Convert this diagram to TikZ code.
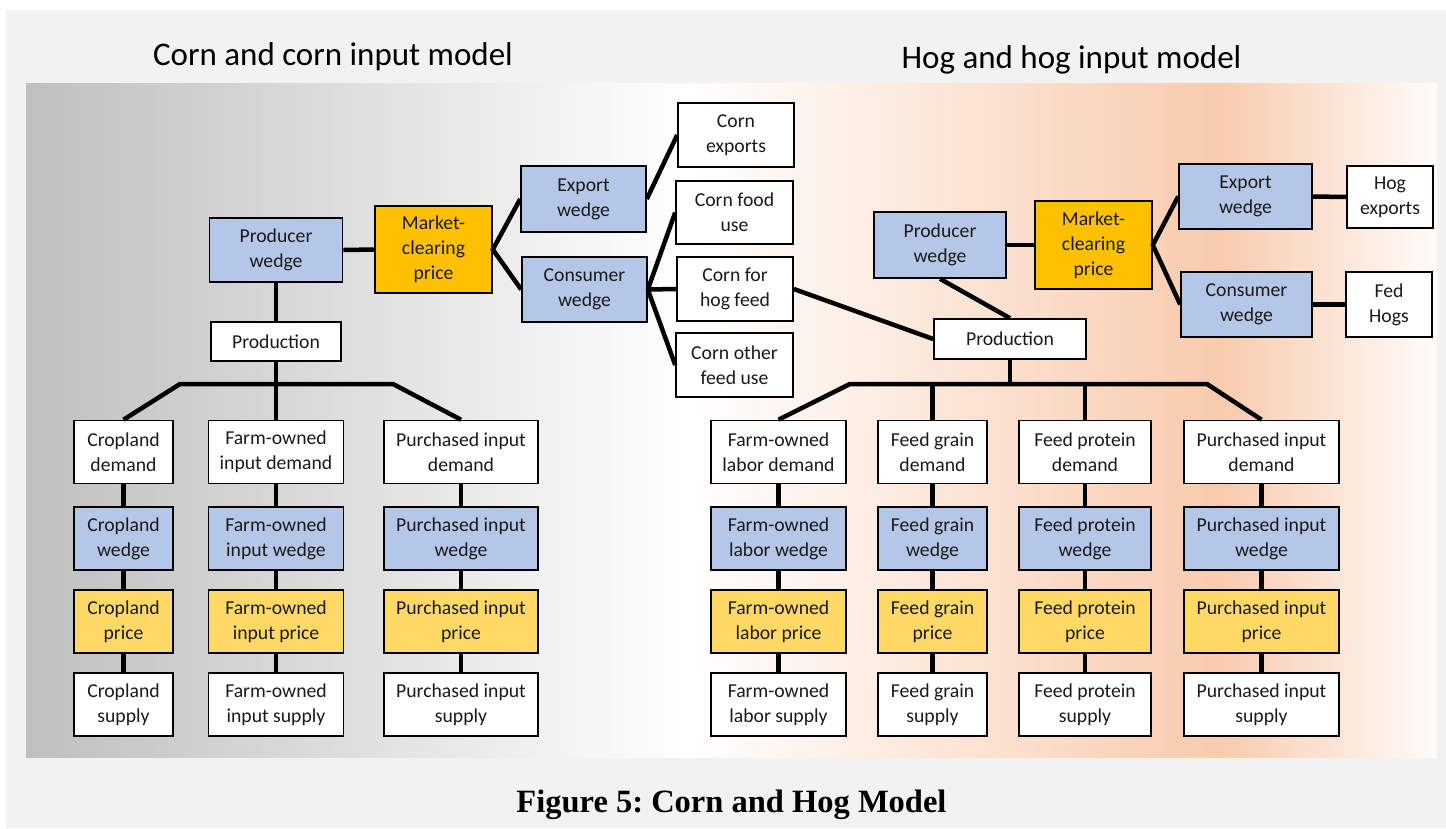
\documentclass[tikz,border=0pt]{standalone}
\usepackage{fontspec}
\setmainfont{Carlito}
\newfontfamily\capfont{Liberation Serif}
\frenchspacing
\definecolor{wedgeblue}{HTML}{B4C7E7}
\definecolor{clearorange}{HTML}{FFC000}
\definecolor{priceyellow}{HTML}{FFD966}
\definecolor{pagegray}{HTML}{F2F2F2}
\definecolor{panelgray}{HTML}{BFBFBF}
\definecolor{panelpeach}{HTML}{F8CBAD}
\definecolor{panelend}{HTML}{FFFCFA}
\definecolor{boxtext}{HTML}{1A1A1A}
\pgfdeclarehorizontalshading{panelshade}{100bp}{color(0bp)=(panelgray); color(25bp)=(panelgray); color(48.5bp)=(white); color(67.3bp)=(panelpeach); color(75bp)=(panelend); color(100bp)=(panelend)}
\tikzset{
  modelbox/.style={draw, line width=1.6pt, rectangle, inner sep=0pt, align=center,
    text=boxtext, font=\fontsize{19.7}{25}\selectfont},
  plainbox/.style={modelbox, fill=white},
  wedgebox/.style={modelbox, fill=wedgeblue},
  clearbox/.style={modelbox, fill=clearorange},
  link/.style={line width=4.5pt},
  paneltitle/.style={anchor=base, font=\fontsize{33}{40}\selectfont}
}
\begin{document}
\begin{tikzpicture}[x=1pt,y=-1pt]
  \useasboundingbox (0,0) rectangle (1446,828);
  \fill[white] (0,0) rectangle (1446,828);
  \fill[pagegray] (6,10) rectangle (1446,828);
  \shade[shading=panelshade] (26,83) rectangle (1437,757);
  \node[paneltitle] (ctitle) at (333,65) {Corn and corn input model};
  \node[paneltitle] (htitle) at (1071.5,68) {Hog and hog input model};
  \node[anchor=base, font=\capfont\bfseries\fontsize{32.5}{38}\selectfont] (caption) at (731.5,812)
    {Figure 5: Corn and Hog Model};

  \node[wedgebox, minimum width=133, minimum height=64] (cpw) at (276,250) {Producer\\wedge};
  \node[clearbox, minimum width=117, minimum height=87] (cmcp) at (433.5,249.5) {Market-\\clearing\\price};
  \node[wedgebox, minimum width=125, minimum height=66] (cexw) at (583.5,199) {Export\\wedge};
  \node[wedgebox, minimum width=125, minimum height=65] (ccw) at (584.5,289.5) {Consumer\\wedge};
  \node[plainbox, minimum width=116, minimum height=64] (cexp) at (736,135) {Corn\\exports};
  \node[plainbox, minimum width=117, minimum height=63] (cfood) at (734.5,212.5) {Corn food\\use};
  \node[plainbox, minimum width=116, minimum height=64] (chog) at (735,289) {Corn for\\hog feed};
  \node[plainbox, minimum width=117, minimum height=64] (cother) at (734.5,365) {Corn other\\feed use};
  \node[plainbox, minimum width=130, minimum height=39] (cprod) at (276,341.5) {Production};

  \node[wedgebox, minimum width=132, minimum height=66] (hpw) at (940,245) {Producer\\wedge};
  \node[clearbox, minimum width=117, minimum height=88] (hmcp) at (1093.5,245) {Market-\\clearing\\price};
  \node[wedgebox, minimum width=133, minimum height=65] (hexw) at (1245.5,196.5) {Export\\wedge};
  \node[wedgebox, minimum width=131, minimum height=65] (hcw) at (1246.5,304.5) {Consumer\\wedge};
  \node[plainbox, minimum width=86, minimum height=62] (hexp) at (1390,197) {Hog\\exports};
  \node[plainbox, minimum width=86, minimum height=65] (hfed) at (1389,304.5) {Fed\\Hogs};
  \node[plainbox, minimum width=152, minimum height=40] (hprod) at (1010,339) {Production};

  \foreach \n/\x/\w/\a in {cland/123.5/99/{Cropland\\}, cfarm/276/135/{Farm-owned\\input\space},
      cpur/461/154/{Purchased input\\}, labor/778.5/135/{Farm-owned\\labor\space},
      grain/932.5/109/{Feed grain\\}, protein/1085/132/{Feed protein\\},
      hpur/1261.5/155/{Purchased input\\}} {
    \foreach \r/\y/\fc in {demand/452/white, wedge/538.5/wedgeblue,
        price/621.5/priceyellow, supply/704.5/white}
      \node[modelbox, fill=\fc, minimum width=\w, minimum height=63] (\n-\r) at (\x,\y) {\a\r};
    \draw[link] (\n-demand.south) -- (\n-wedge.north) (\n-wedge.south) -- (\n-price.north)
      (\n-price.south) -- (\n-supply.north);
  }

  \coordinate (cbusL) at (180,384);
  \coordinate (cbusR) at (393,384);
  \coordinate (hbusL) at (850,384);
  \coordinate (hbusR) at (1207,384);

  \draw[link] (cpw.east) -- (cmcp.west);
  \draw[link] (cexw.west) -- (cmcp.east) -- (ccw.west);
  \draw[link] (cexw.east) -- (cexp.west);
  \draw[link] (ccw.east) -- (cfood.west) (ccw.east) -- (chog.west) (ccw.east) -- (cother.west);
  \draw[link] (cpw.south) -- (cprod.north);
  \draw[link] (cprod.south) -- (cfarm-demand.north);
  \draw[link] (cland-demand.north) -- (cbusL) -- (cbusR) -- (cpur-demand.north);

  \draw[link] (hpw.east) -- (hmcp.west);
  \draw[link] (hexw.west) -- (hmcp.east) -- (hcw.west);
  \draw[link] (hexw.east) -- (hexp.west);
  \draw[link] (hcw.east) -- (hfed.west);
  \draw[link] (hpw.south) -- (hprod.north);
  \draw[link] (chog.east) -- (hprod.west);
  \draw[link] (hprod.south) -- (hprod.south |- hbusL);
  \draw[link] (labor-demand.north) -- (hbusL) -- (hbusR) -- (hpur-demand.north);
  \draw[link] (grain-demand.north) -- (grain-demand.north |- hbusL);
  \draw[link] (protein-demand.north) -- (protein-demand.north |- hbusL);
\end{tikzpicture}
\end{document}
